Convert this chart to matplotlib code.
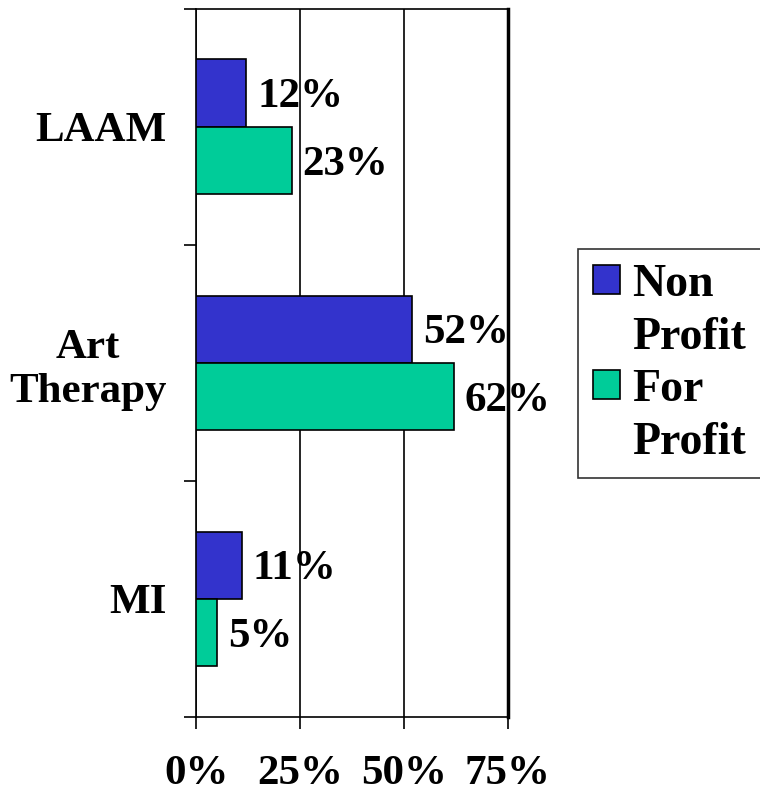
import numpy as np
import matplotlib
matplotlib.use("Agg")
import matplotlib.pyplot as plt
from matplotlib.patches import Rectangle

# data
categories = ["MI", "Art\nTherapy", "LAAM"]
non_profit = [11, 52, 12]
for_profit = [5, 62, 23]
series_names = ["Non\nProfit", "For\nProfit"]
xticks = [0, 25, 50, 75]

blue = "#3333CC"
green = "#00CC99"

plt.rcParams['font.family'] = ['Liberation Serif', 'DejaVu Serif']
plt.rcParams['font.weight'] = 'bold'
FS = 31

fig = plt.figure(figsize=(7.6, 7.94), dpi=100)
ax = fig.add_axes([0.258, 0.097, 0.41, 0.892])

y = np.arange(len(categories))
h = 0.285
b1 = ax.barh(y + h / 2, non_profit, height=h, color=blue, edgecolor='black',
             linewidth=1.2, zorder=3)
b2 = ax.barh(y - h / 2, for_profit, height=h, color=green, edgecolor='black',
             linewidth=1.2, zorder=3)

for bars, vals in ((b1, non_profit), (b2, for_profit)):
    for bar, v in zip(bars, vals):
        ax.annotate("%d%%" % v, (bar.get_width(), bar.get_y() + bar.get_height() / 2),
                    xytext=(8, -3), textcoords='offset points',
                    va='center', ha='left', fontsize=FS, fontweight='bold', zorder=4)

ax.set_xlim(0, 75)
ax.set_ylim(-0.5, 2.5)
ax.set_xticks(xticks)
ax.set_xticklabels(["%d%%" % t for t in xticks], fontsize=FS, fontweight='bold')
ax.xaxis.grid(True, color='black', linewidth=1.2, zorder=0)

# category ticks sit on group boundaries, labels at centres
ax.set_yticks([-0.5, 0.5, 1.5, 2.5])
ax.set_yticklabels([])
ax.set_yticks(y, minor=True)
ax.set_yticklabels(categories, minor=True, fontsize=FS, fontweight='bold',
                   ha='right', multialignment='center')
ax.tick_params(axis='y', which='minor', length=0, pad=21)
ax.tick_params(axis='y', which='major', direction='out', length=8.6, width=1.2)
ax.tick_params(axis='x', direction='out', length=8.6, width=1.2, pad=19)

for s in ax.spines.values():
    s.set_color('black')
    s.set_linewidth(1.2)
ax.spines['right'].set_linewidth(2.5)

# legend: one entry per text line so the swatch sits on the first line
blank = Rectangle((0, 0), 1, 1, fill=False, edgecolor='none')
handles, labels = [], []
for bars, name in ((b1, series_names[0]), (b2, series_names[1])):
    lines = name.split("\n")
    handles.append(bars[0])
    labels.append(lines[0])
    for extra in lines[1:]:
        handles.append(blank)
        labels.append(extra)

leg = fig.legend(handles=handles, labels=labels, loc='upper left',
                 bbox_to_anchor=(0.7605, 0.686), prop={'size': 33, 'weight': 'bold'},
                 frameon=True, fancybox=False, edgecolor='black',
                 handlelength=0.59, handleheight=0.59, handletextpad=0.28,
                 borderpad=0.32, labelspacing=0.23, borderaxespad=0)
leg.get_frame().set_linewidth(1.2)

fig.savefig("out.png", dpi=100)
